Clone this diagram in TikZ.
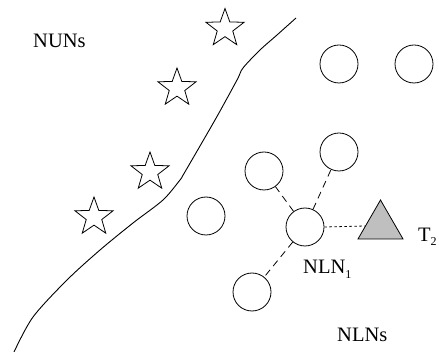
\documentclass[tikz,border=0pt]{standalone}
\usepackage{fontspec}
\setmainfont{Liberation Serif}
\usetikzlibrary{shapes.geometric}
\tikzset{
  pt/.style={x=1pt,y=-1pt},
  starnode/.style={star,star points=5,star point ratio=2.45,draw,line width=0.8pt,minimum size=40pt,inner sep=0pt},
  nodecirc/.style={circle,draw,line width=0.8pt,minimum size=38pt,inner sep=0pt},
  tri/.style={regular polygon,regular polygon sides=3,draw,line width=0.8pt,fill=black!25,minimum size=52pt,inner sep=0pt},
  lab/.style={anchor=base west,inner sep=0pt,font=\fontsize{20.5}{24}\selectfont},
  dashlink/.style={line width=0.8pt,dash pattern=on 7pt off 5pt},
  dotlink/.style={line width=0.8pt,dash pattern=on 2.5pt off 2.5pt},
  border/.style={line width=0.9pt}
}
\begin{document}
\begin{tikzpicture}[pt]
\useasboundingbox (0,0) rectangle (439,352);
% boundary curve
\draw[border] plot[smooth,tension=0.5] coordinates {(296,18) (277,35) (260,50) (243,68) (237,80) (215,120) (182,177)};
\draw[border] plot[smooth,tension=0.5] coordinates {(182,177) (180,180) (163,200) (133,223) (100,250) (67,280) (33,317) (14,352)};
% stars (NUNs)
\node[starnode] (s1) at (225,28.5) {};
\node[starnode] (s2) at (177,88) {};
\node[starnode] (s3) at (150,172) {};
\node[starnode] (s4) at (94,217) {};
% circles (NLNs)
\node[nodecirc] (r1) at (339,64) {};
\node[nodecirc] (r2) at (414,64) {};
\node[nodecirc] (ca) at (264,171) {};
\node[nodecirc] (cb) at (339,152) {};
\node[nodecirc] (cc) at (206,216) {};
\node[nodecirc] (c)  at (305,227) {};
\node[nodecirc] (ce) at (252,292) {};
% triangle target
\node[tri] (t) at (380.5,226) {};
% links
\draw[dashlink] (c) -- (ca);
\draw[dashlink] (c) -- (cb);
\draw[dashlink] (c) -- (ce);
\draw[dotlink] (c.east) -- (t.180);
% labels
\node[lab] (nuns) at (33,48) {NUNs};
\node[lab] (nln1) at (303,274) {NLN\raisebox{-5pt}{\fontsize{12}{12}\selectfont 1}};
\node[lab] (t2) at (418,242) {T\raisebox{-4pt}{\fontsize{12}{12}\selectfont 2}};
\node[lab] (nlns) at (337,342) {NLNs};
\end{tikzpicture}
\end{document}
